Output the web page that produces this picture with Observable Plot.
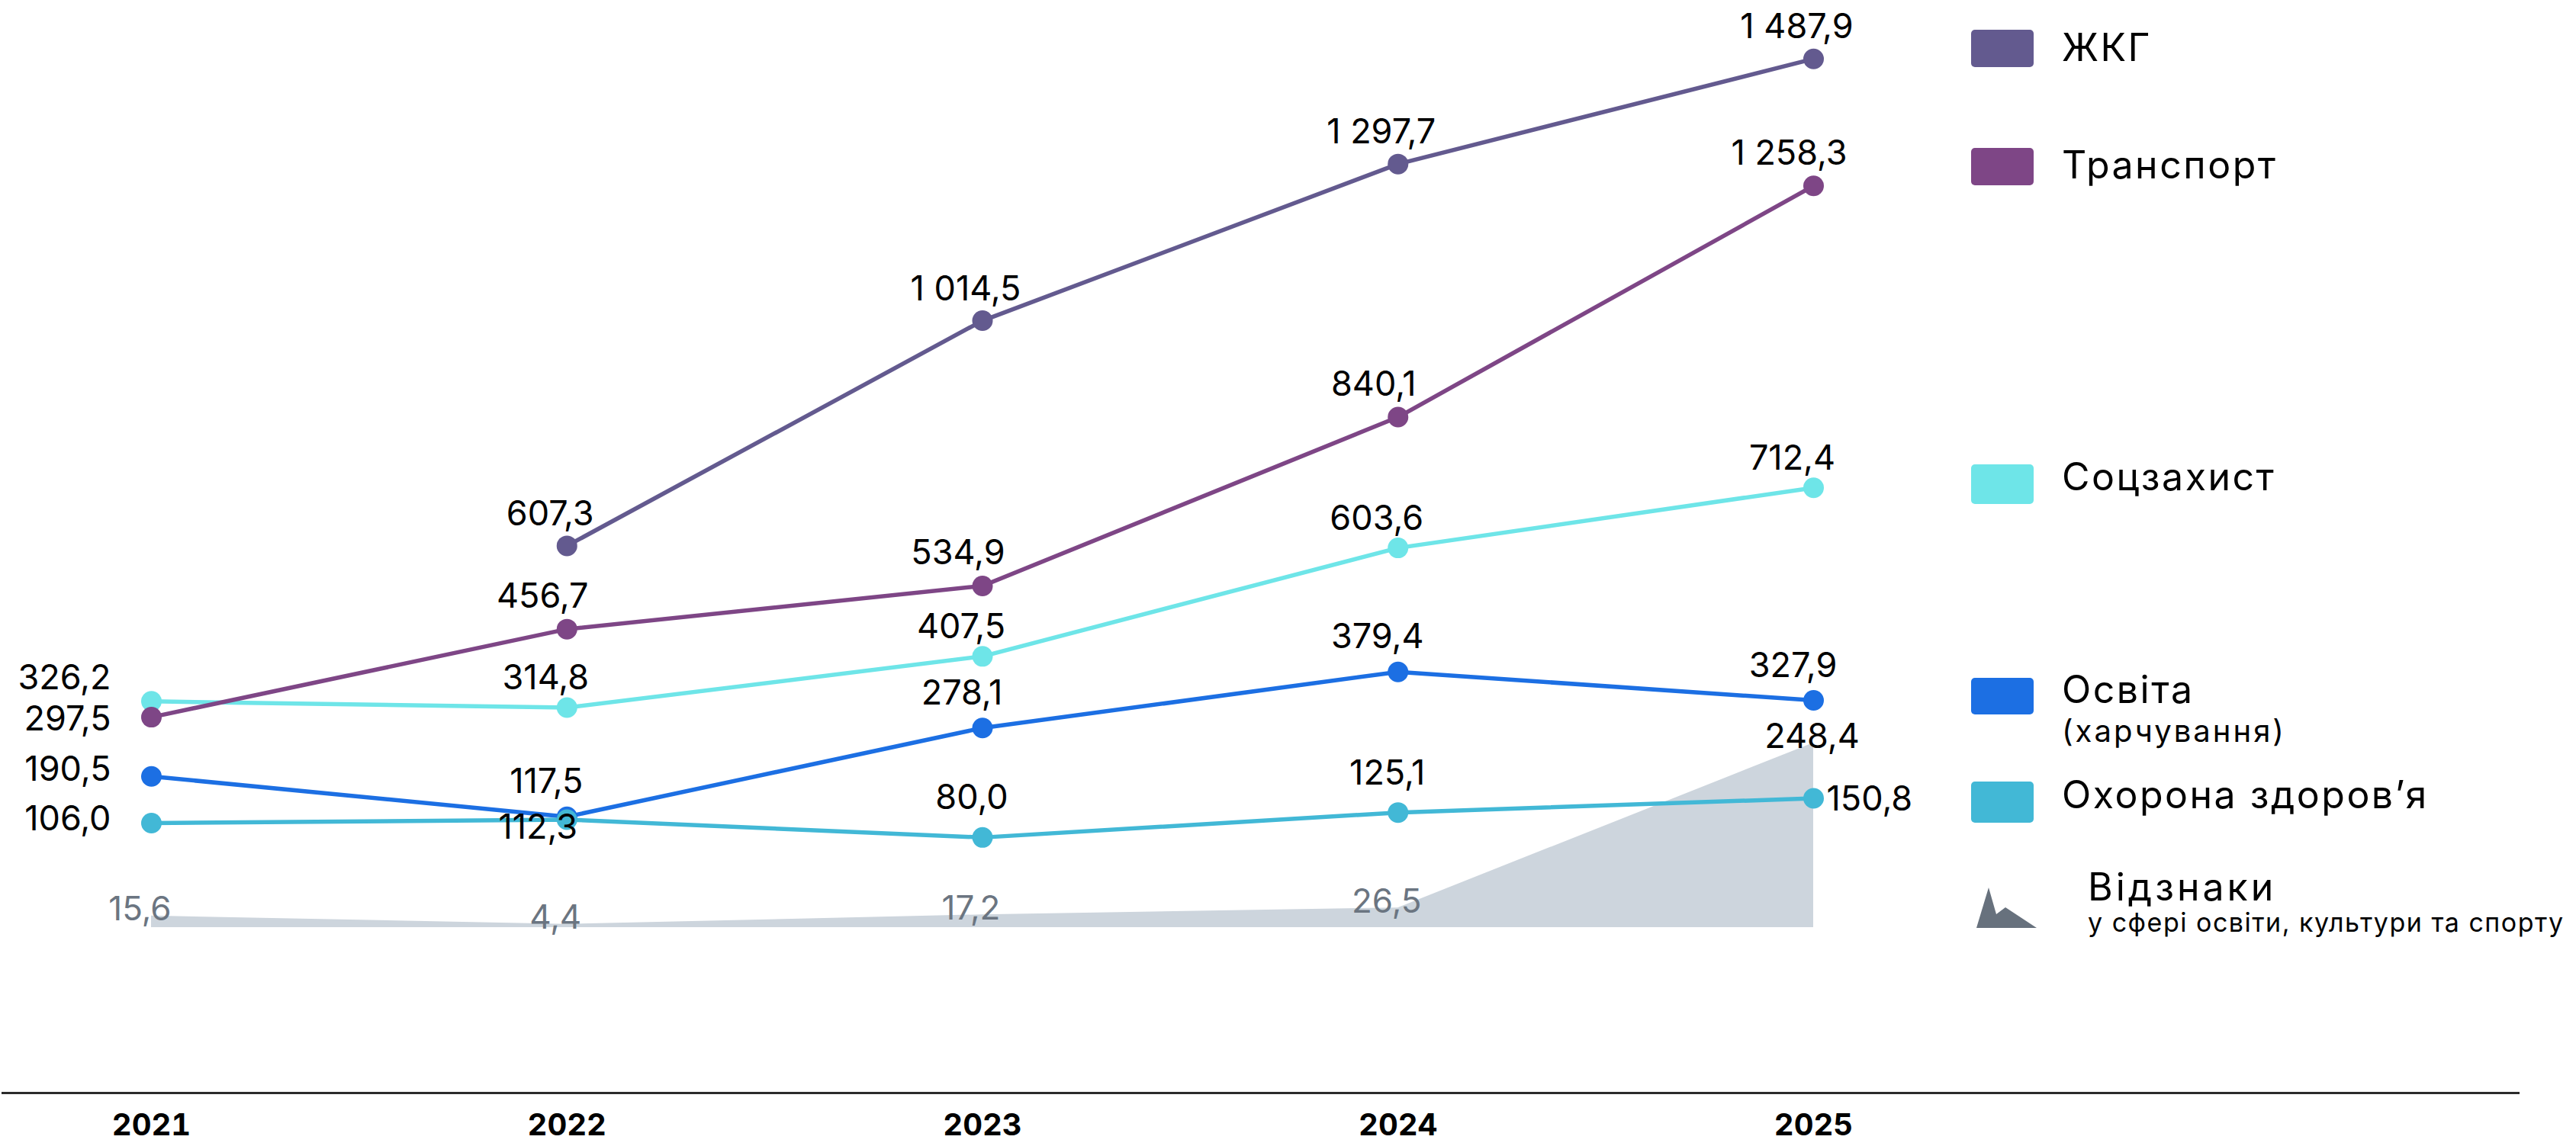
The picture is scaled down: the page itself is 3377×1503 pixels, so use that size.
<!DOCTYPE html>
<html><head><meta charset="utf-8">
<script src="https://cdn.jsdelivr.net/npm/d3@7"></script>
<script src="https://cdn.jsdelivr.net/npm/@observablehq/plot@0.6"></script>
<style>
html,body{margin:0;padding:0;background:#fff;overflow:hidden;}
#chart{position:relative;width:3377px;height:1503px;overflow:hidden;font-family:Inter, sans-serif;}
#chart > svg{position:absolute;left:0;top:0;max-width:none;}
</style></head><body><div id="chart"></div>
<script>
// ---- data ----
const years = [2021, 2022, 2023, 2024, 2025];
const seriesNames = ["ЖКГ", "Транспорт", "Соцзахист", "Освіта", "Охорона здоров’я"];
const seriesColors = ["#635a8f", "#7e4686", "#6ee5e8", "#1c6fe3", "#42b8d6"];
const zhkg      = [null, 607.3, 1014.5, 1297.7, 1487.9];
const transport = [297.5, 456.7, 534.9, 840.1, 1258.3];
const social    = [326.2, 314.8, 407.5, 603.6, 712.4];
const education = [190.5, 117.5, 278.1, 379.4, 327.9];
const health    = [106.0, 112.3, 80.0, 125.1, 150.8];
const awards    = [15.6, 4.4, 17.2, 26.5, 248.4];
const educationSub = "(харчування)";
const awardsName = "Відзнаки";
const awardsSub = "у сфері освіти, культури та спорту";

// ---- build tables ----
const valuesBySeries = {
  "ЖКГ": zhkg, "Транспорт": transport, "Соцзахист": social,
  "Освіта": education, "Охорона здоров’я": health
};
const drawOrder = ["ЖКГ", "Соцзахист", "Транспорт", "Освіта", "Охорона здоров’я"];
const rows = [];
for (const s of drawOrder) {
  valuesBySeries[s].forEach((v, i) => { if (v != null) rows.push({series: s, year: years[i], value: v}); });
}
const areaRows = awards.map((v, i) => ({year: years[i], value: v}));

const loc = d3.formatLocale({decimal: ",", thousands: "\u00a0", grouping: [3], currency: ["", ""]});
const fmt = loc.format(",.1f");

const W = 3377, H = 1503;
const xOpts = {type: "linear", domain: [2021, 2025], range: [198, 2377]};
const color = {domain: seriesNames, range: seriesColors};
const LF = 45;   // value label font size
const LS = "1px"; // value label letter spacing

// label layout rules (pixels)
const labelShift = {
  "ЖКГ": [-22, -27], "Транспорт": [-32, -28], "Соцзахист": [-28, -24],
  "Освіта": [-27, -31], "Охорона здоров’я": [-14, -37]
};
const firstYearDy = {"Транспорт": 17, "Соцзахист": -16, "Освіта": 6, "Охорона здоров’я": 9};
const isSpecial = r => r.series === "Охорона здоров’я" && (r.year === 2022 || r.year === 2025);

const textMarks = [];
for (const s of drawOrder) {
  const [dx, dy] = labelShift[s];
  textMarks.push(Plot.text(rows.filter(r => r.series === s && r.year !== 2021 && !isSpecial(r)), {
    x: "year", y: "value", text: d => fmt(d.value), dx, dy,
    textAnchor: "middle", lineAnchor: "bottom", fontSize: LF, fill: "#000", letterSpacing: LS
  }));
  const first = rows.filter(r => r.series === s && r.year === 2021);
  if (first.length) textMarks.push(Plot.text(first, {
    x: "year", y: "value", text: d => fmt(d.value), dx: -53, dy: firstYearDy[s],
    textAnchor: "end", lineAnchor: "bottom", fontSize: LF, fill: "#000", letterSpacing: LS
  }));
}
textMarks.push(Plot.text(rows.filter(r => isSpecial(r) && r.year === 2022), {
  x: "year", y: "value", text: d => fmt(d.value), dx: -38, dy: 25,
  textAnchor: "middle", lineAnchor: "bottom", fontSize: LF, fill: "#000", letterSpacing: LS
}));
textMarks.push(Plot.text(rows.filter(r => isSpecial(r) && r.year === 2025), {
  x: "year", y: "value", text: d => fmt(d.value), dx: 17, dy: 16,
  textAnchor: "start", lineAnchor: "bottom", fontSize: LF, fill: "#000", letterSpacing: LS
}));

// ---- area plot (own scale, underneath) ----
const areaPlot = Plot.plot({
  width: W, height: H,
  marginLeft: 3, marginRight: 76, marginTop: 0, marginBottom: 70,
  style: {background: "transparent", fontFamily: "Inter, sans-serif"},
  x: {...xOpts, axis: null},
  y: {domain: [0, 248.4], range: [1216, 974], axis: null},
  marks: [
    Plot.areaY(areaRows, {x: "year", y: "value", fill: "#cdd5dd"}),
    Plot.text(areaRows.filter(d => d.year !== 2025), {
      x: "year", y: "value", text: d => fmt(d.value), dx: -15, dy: 6,
      textAnchor: "middle", lineAnchor: "bottom", fontSize: 44, fill: "#6b7581"
    }),
    Plot.text(areaRows.filter(d => d.year === 2025), {
      x: "year", y: "value", text: d => fmt(d.value), dx: -2, dy: 6,
      textAnchor: "middle", lineAnchor: "bottom", fontSize: LF, fill: "#000", letterSpacing: LS
    })
  ]
});

// ---- lines plot ----
const linePlot = Plot.plot({
  width: W, height: H,
  marginLeft: 3, marginRight: 76, marginTop: 0, marginBottom: 70,
  style: {background: "transparent", fontFamily: "Inter, sans-serif"},
  x: {...xOpts},
  y: {domain: [0, 1487.9], range: [1155.9, 76.7], axis: null},
  color,
  marks: [
    Plot.frame({anchor: "bottom", stroke: "#2b2b2b", strokeWidth: 3}),
    Plot.axisX({ticks: years, tickFormat: d => String(d), tickSize: 0, tickPadding: 27,
      fontSize: 40, fontWeight: 700, fill: "#000", label: null}),
    Plot.line(rows, {x: "year", y: "value", z: "series", stroke: "series", strokeWidth: 5.5}),
    Plot.dot(rows, {x: "year", y: "value", fill: "series", r: 13.5}),
    ...textMarks
  ]
});

const chart = document.getElementById("chart");
chart.appendChild(areaPlot);
chart.appendChild(linePlot);

// ---- legend ----
const legendItems = [
  {name: "ЖКГ", sw: [39, 88], base: 80},
  {name: "Транспорт", sw: [194, 243], base: 234},
  {name: "Соцзахист", sw: [609, 661], base: 643},
  {name: "Освіта", sw: [889, 937], base: 922, sub: educationSub, subBase: 973},
  {name: "Охорона здоров’я", sw: [1025, 1079], base: 1060}
];
const leg = d3.create("svg").attr("width", W).attr("height", H)
  .style("font-family", "Inter, sans-serif");
for (const it of legendItems) {
  const c = seriesColors[seriesNames.indexOf(it.name)];
  leg.append("rect").attr("x", 2584).attr("y", it.sw[0]).attr("width", 82)
    .attr("height", it.sw[1] - it.sw[0]).attr("rx", 5).attr("fill", c);
  leg.append("text").attr("x", 2703).attr("y", it.base).attr("font-size", 50)
    .attr("letter-spacing", 2.5).attr("fill", "#000").text(it.name);
  if (it.sub) leg.append("text").attr("x", 2703).attr("y", it.subBase).attr("font-size", 40)
    .attr("letter-spacing", 3).attr("fill", "#000").text(it.sub);
}
leg.append("path").attr("d", "M2591,1217 L2607,1164 L2617,1199 L2629,1190 L2670,1217 Z").attr("fill", "#67717d");
leg.append("text").attr("x", 2737).attr("y", 1181).attr("font-size", 50)
  .attr("letter-spacing", 4).attr("fill", "#000").text(awardsName);
leg.append("text").attr("x", 2737).attr("y", 1222).attr("font-size", 34)
  .attr("letter-spacing", 1.5).attr("fill", "#000").text(awardsSub);
chart.appendChild(leg.node());
</script></body></html>
